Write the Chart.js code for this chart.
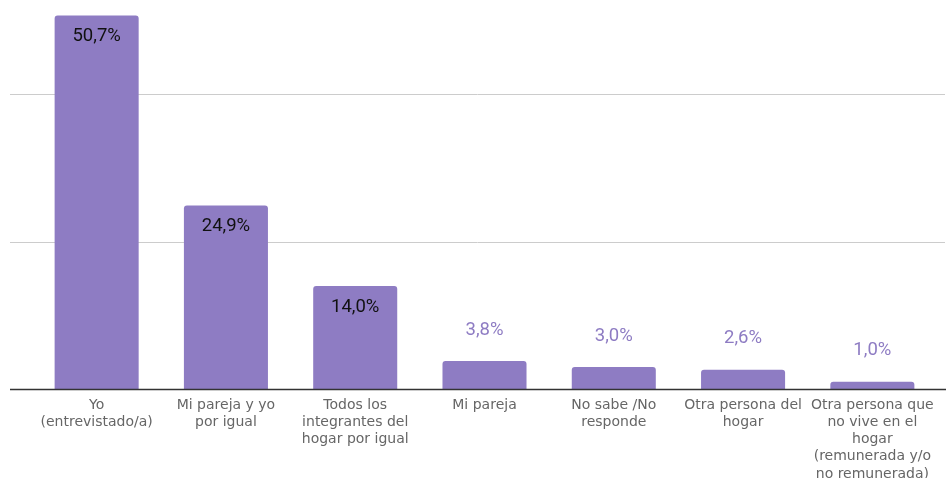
<!DOCTYPE html>
<html>
<head>
<meta charset="utf-8">
<script src="https://cdn.jsdelivr.net/npm/chart.js@4/dist/chart.umd.min.js"></script>
<style>
  html, body { margin: 0; padding: 0; background: #fff; }
  #chart { display: block; }
</style>
</head>
<body>
<canvas id="chart" width="946" height="478"></canvas>
<script>
// data
const categories = [
    ['Yo', '(entrevistado/a)'],
    ['Mi pareja y yo', 'por igual'],
    ['Todos los', 'integrantes del', 'hogar por igual'],
    ['Mi pareja'],
    ['No sabe /No', 'responde'],
    ['Otra persona del', 'hogar'],
    ['Otra persona que', 'no vive en el', 'hogar', '(remunerada y/o', 'no remunerada)']
];
const values = [50.7, 24.9, 14.0, 3.8, 3.0, 2.6, 1.0];
const gridValues = [20, 40];

const BAR_COLOR = '#8e7cc3';

// gridlines run wider than the plot area in the original
const gridPlugin = {
    id: 'wideGrid',
    beforeDatasetsDraw(chart) {
        const ctx = chart.ctx;
        const y = chart.scales.y;
        ctx.save();
        ctx.strokeStyle = '#cccccc';
        ctx.lineWidth = 1;
        gridValues.forEach(v => {
            const py = Math.round(y.getPixelForValue(v)) + 0.5;
            ctx.beginPath();
            ctx.moveTo(10, py);
            ctx.lineTo(945, py);
            ctx.stroke();
        });
        ctx.restore();
    },
    afterDatasetsDraw(chart) {
        const ctx = chart.ctx;
        const y = chart.scales.y;
        const py = Math.round(y.getPixelForValue(0)) + 0.5;
        ctx.save();
        ctx.strokeStyle = '#333333';
        ctx.lineWidth = 1.5;
        ctx.beginPath();
        ctx.moveTo(10, py);
        ctx.lineTo(946, py);
        ctx.stroke();
        ctx.restore();
    }
};

// value labels: inside big bars, above the small ones
const labelPlugin = {
    id: 'valueLabels',
    afterDatasetsDraw(chart) {
        const ctx = chart.ctx;
        const meta = chart.getDatasetMeta(0);
        ctx.save();
        ctx.font = '18.5px Roboto';
        ctx.textAlign = 'center';
        ctx.textBaseline = 'middle';
        meta.data.forEach((bar, i) => {
            const v = values[i];
            const text = v.toFixed(1).replace('.', ',') + '%';
            if (v >= 10) {
                ctx.fillStyle = '#111111';
                ctx.fillText(text, bar.x, bar.y + 21);
            } else {
                ctx.fillStyle = BAR_COLOR;
                ctx.fillText(text, bar.x, bar.y - 31);
            }
        });
        ctx.restore();
    }
};

new Chart(document.getElementById('chart'), {
    type: 'bar',
    data: {
        labels: categories,
        datasets: [{
            data: values,
            backgroundColor: BAR_COLOR,
            borderRadius: { topLeft: 3, topRight: 3 },
            borderSkipped: 'start',
            barPercentage: 0.65,
            categoryPercentage: 1.0
        }]
    },
    options: {
        responsive: false,
        animation: false,
        layout: { padding: { left: 32, right: 9, top: 6, bottom: 0 } },
        plugins: {
            legend: { display: false },
            tooltip: { enabled: false }
        },
        scales: {
            x: {
                grid: { display: false, drawTicks: false },
                border: { display: false },
                ticks: {
                    color: '#666666',
                    font: { family: 'DejaVu Sans', size: 14, lineHeight: 1.22 },
                    padding: 8,
                    maxRotation: 0,
                    autoSkip: false
                },
                afterFit(scale) { scale.height = 89; }
            },
            y: {
                display: false,
                min: 0,
                max: 52
            }
        }
    },
    plugins: [gridPlugin, labelPlugin]
});
</script>
</body>
</html>
